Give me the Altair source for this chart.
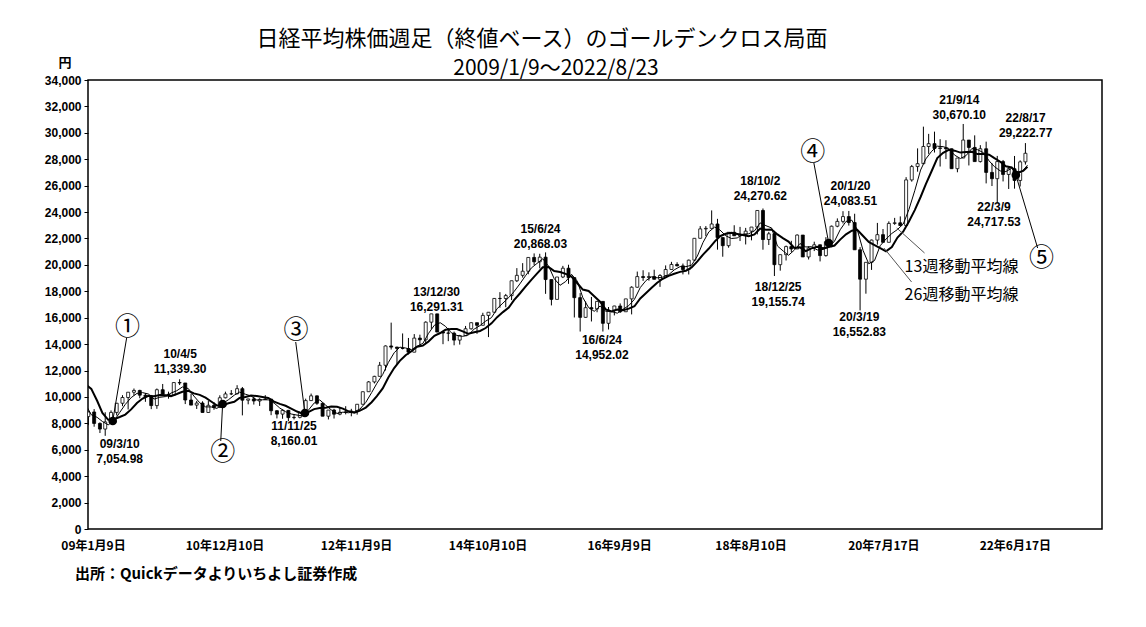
import altair as alt
import pandas as pd

# ---------------- data (monthly, close-based) ----------------
month_start = pd.date_range("2008-07-01", "2022-08-01", freq="MS")
mid_dates = list(month_start + pd.Timedelta(days=14))
end_dates = list(month_start + pd.offsets.MonthEnd(0))
mid_dates[-1] = pd.Timestamp("2022-08-12")
end_dates[-1] = pd.Timestamp("2022-08-23")

opens = [
    13481, 13377, 13073, 11260, 8577, 8512,
    8860, 7994, 7568, 8109, 8828, 9523, 9958, 10357, 10492, 10133, 10034, 9345,
    10546, 10198, 10126, 11089, 11057, 9768, 9382, 9537, 8824, 9369, 9202, 9937,
    10228, 10237, 10624, 9755, 9849, 9693, 9816, 9833, 8955, 8700, 8988, 8434,
    8455, 8802, 9723, 10083, 9520, 8542, 9006, 8695, 8839, 8870, 8928, 9446,
    10395, 11138, 11559, 12397, 13860, 13774, 13677, 13668, 13389, 14456, 14327, 15662,
    16291, 14914, 14841, 14828, 14304, 14632, 15162, 15621, 15425, 16174, 16414, 17460,
    17451, 17674, 18798, 19207, 19520, 20563, 20236, 20585, 18890, 17388, 19083, 19747,
    19034, 17518, 16027, 16759, 16666, 17235, 15576, 16569, 16887, 16450, 17425, 18308,
    19114, 19041, 19119, 18909, 19197, 19651, 20033, 19925, 19646, 20356, 22012, 22725,
    22765, 23098, 22068, 21454, 22468, 22202, 22305, 22554, 22865, 24120, 21920, 22351,
    20015, 20773, 21385, 21206, 22259, 20601, 21276, 21521, 20704, 21756, 22927, 23294,
    23657, 23205, 21143, 18917, 20194, 21878, 22288, 21710, 23140, 23185, 22977, 26434,
    27444, 27663, 28966, 29179, 28813, 28860, 28792, 27284, 28090, 29453, 28893, 27822,
    28792, 27002, 26527, 27821, 26848, 27280, 26393, 27802,
]
highs = [
    13603, 13430, 13168, 11368, 9521, 8860,
    9080, 8076, 8843, 8981, 9547, 10135, 10357, 10639, 10544, 10290, 10150, 10640,
    10982, 10400, 11097, 11339, 11057, 10250, 9700, 9670, 9690, 9600, 10125, 10400,
    10520, 10891, 10754, 9849, 10004, 9900, 10137, 9833, 9000, 9060, 8988, 8700,
    8900, 9870, 10255, 10110, 9520, 9006, 9100, 9200, 9300, 9100, 9460, 10400,
    11200, 11600, 12650, 13900, 15627, 13800, 14808, 14466, 14760, 14713, 15727, 16291,
    16291, 15000, 15224, 14946, 14700, 15376, 15650, 15621, 16374, 16414, 17490, 17935,
    17800, 18798, 19754, 20133, 20563, 20868, 20841, 20946, 18890, 19083, 19925, 20012,
    19034, 17865, 17233, 17572, 17235, 17235, 16810, 16900, 17081, 17425, 18380, 19494,
    19594, 19437, 19633, 19300, 19961, 20230, 20200, 20100, 20400, 22012, 22938, 22939,
    24124, 23486, 22068, 22468, 23002, 22877, 22800, 22869, 24120, 24271, 22500, 22574,
    20773, 21464, 21822, 22307, 22259, 21400, 21756, 21540, 22098, 22974, 23520, 24066,
    24084, 23873, 21344, 20194, 21916, 23178, 22715, 23296, 23559, 23671, 26644, 27568,
    28822, 30468, 29921, 30089, 29518, 29441, 28807, 28090, 30670, 29453, 29808, 29066,
    29332, 27696, 28252, 27944, 27401, 28247, 27915, 29223,
]
lows = [
    12760, 12666, 11259, 7162, 7703, 7863,
    7745, 7268, 7055, 8084, 8600, 9300, 9050, 10100, 9900, 9630, 9076, 9100,
    10198, 9868, 10100, 10900, 9460, 9382, 9090, 8824, 8824, 9027, 9159, 9890,
    10140, 10200, 8605, 9441, 9422, 9318, 9795, 8619, 8374, 8348, 8160, 8296,
    8378, 8800, 9700, 9402, 8542, 8296, 8365, 8612, 8680, 8534, 8661, 9432,
    10395, 11020, 11559, 12003, 13589, 12445, 13600, 13219, 13389, 13854, 14086, 15152,
    14914, 13995, 14224, 13910, 13964, 14632, 15100, 14778, 15425, 14532, 16414, 16755,
    16795, 17335, 18700, 19034, 19291, 19990, 19737, 17806, 16931, 17388, 19000, 18565,
    16017, 14953, 16000, 15715, 16412, 14952, 15107, 16173, 16359, 16450, 16251, 18274,
    18788, 18805, 18909, 18335, 19197, 19651, 19891, 19280, 19274, 20356, 22000, 22177,
    22765, 21154, 20617, 21300, 22200, 21804, 21546, 21858, 22307, 21149, 21507, 19156,
    19562, 20333, 20977, 21206, 20601, 20408, 21046, 20261, 20625, 21341, 22850, 23135,
    22977, 21143, 16553, 17818, 19619, 21530, 21710, 21710, 23032, 22977, 22977, 26300,
    27056, 27663, 28405, 28508, 27448, 28011, 27284, 27013, 28090, 27528, 27822, 27753,
    26170, 25971, 24718, 26319, 25748, 25771, 25936, 27594,
]
closes = [
    13377, 13073, 11260, 8577, 8512, 8860,
    7994, 7568, 8109, 8828, 9523, 9958, 10357, 10492, 10133, 10034, 9345, 10546,
    10198, 10126, 11089, 11057, 9768, 9382, 9537, 8824, 9369, 9202, 9937, 10228,
    10237, 10624, 9755, 9849, 9693, 9816, 9833, 8955, 8700, 8988, 8434, 8455,
    8802, 9723, 10083, 9520, 8542, 9006, 8695, 8839, 8870, 8928, 9446, 10395,
    11138, 11559, 12397, 13860, 13774, 13677, 13668, 13389, 14456, 14327, 15662, 16291,
    14914, 14841, 14828, 14304, 14632, 15162, 15621, 15425, 16174, 16414, 17460, 17451,
    17674, 18798, 19207, 19520, 20563, 20236, 20585, 18890, 17388, 19083, 19747, 19034,
    17518, 16027, 16759, 16666, 17235, 15576, 16569, 16887, 16450, 17425, 18308, 19114,
    19041, 19119, 18909, 19197, 19651, 20033, 19925, 19646, 20356, 22012, 22725, 22765,
    23098, 22068, 21454, 22468, 22202, 22305, 22554, 22865, 24120, 21920, 22351, 20015,
    20773, 21385, 21206, 22259, 20601, 21276, 21521, 20704, 21756, 22927, 23294, 23657,
    23205, 21143, 18917, 20194, 21878, 22288, 21710, 23140, 23185, 22977, 26434, 27444,
    27663, 28966, 29179, 28813, 28860, 28792, 27284, 28090, 29453, 28893, 27822, 28792,
    27002, 26527, 27821, 26848, 27280, 26393, 27802, 28452,
]

# annotated highs / lows (text, text anchor date, text anchor value)
ann_labels = ["09/3/10\n7,054.98", "10/4/5\n11,339.30", "11/11/25\n8,160.01",
              "13/12/30\n16,291.31", "15/6/24\n20,868.03", "16/6/24\n14,952.02",
              "18/10/2\n24,270.62", "18/12/25\n19,155.74", "20/1/20\n24,083.51",
              "20/3/19\n16,552.83", "21/9/14\n30,670.10", "22/3/9\n24,717.53",
              "22/8/17\n29,222.77"]
ann_dates = ["2009-05-31", "2010-04-18", "2011-12-15", "2014-01-12", "2015-07-19",
             "2016-06-10", "2018-10-01", "2019-01-04", "2020-01-24", "2020-03-11",
             "2021-08-25", "2022-02-26", "2022-08-13"]
ann_values = [6815, 13630, 8178, 18325, 23096, 14690, 26730, 18704, 26352, 16432,
              32864, 24761, 31501]

# golden cross points
gc_labels = ["①", "②", "③", "④", "⑤"]
gc_dates = ["2009-04-24", "2010-11-30", "2012-02-11", "2019-09-30", "2022-06-22"]
gc_values = [8178, 9465, 8784, 21657, 26806]
gc_text_dates = ["2009-07-12", "2010-11-30", "2011-12-25", "2019-07-07", "2022-11-06"]
gc_text_values = [15296, 5831, 15069, 28548, 20521]
gc_lead_dates = ["2009-07-07", "2010-11-20", "2011-12-24", "2019-07-13", "2022-10-16"]
gc_lead_values = [14463, 6664, 14160, 27715, 21278]

# moving-average labels
ma_labels = ["13週移動平均線", "26週移動平均線"]
ma_label_dates = ["2020-11-07", "2020-11-07"]
ma_label_values = [19839, 17719]
ma_lead_from_dates = ["2020-09-26", "2020-07-20"]
ma_lead_from_values = [22793, 21278]
ma_lead_to_dates = ["2021-02-21", "2020-12-14"]
ma_lead_to_values = [20900, 18704]

tick_dates = ["2009-01-09", "2010-12-10", "2012-11-09", "2014-10-10",
              "2016-09-09", "2018-08-10", "2020-07-17", "2022-06-17"]
y_ticks = list(range(0, 34001, 2000))

TITLE = "日経平均株価週足（終値ベース）のゴールデンクロス局面"
SUBTITLE = "2009/1/9～2022/8/23"
SOURCE = "出所：Quickデータよりいちよし証券作成"

# ---------------- chart ----------------
JP = "Noto Sans CJK JP"
NUM = "Liberation Sans"

df = pd.DataFrame({"mid": mid_dates, "end": end_dates, "open": opens,
                   "high": highs, "low": lows, "close": closes})


def dt(s):
    y, m, d = [int(v) for v in s.split("-")]
    return alt.DateTime(year=y, month=m, date=d)


xscale = alt.Scale(domain=[dt("2009-01-09"), dt("2023-08-28")])
yscale = alt.Scale(domain=[0, 34000], nice=False, zero=False)

x_axis = alt.Axis(values=[dt(s) for s in tick_dates], format="%y年%-m月%-d日",
                  labelFont=JP, labelFontWeight="bold", labelFontSize=12,
                  labelColor="black", ticks=False, domain=False, grid=False,
                  labelPadding=11, title=None, labelOverlap=False)
y_axis = alt.Axis(values=y_ticks, format=",d", labelFont=NUM,
                  labelFontWeight="bold", labelFontSize=12, labelColor="black",
                  tickColor="black", tickSize=4, domain=False, grid=False,
                  labelPadding=3, title=None, labelOverlap=False, labelBound=False)


def XT(field):
    return alt.X(field, scale=xscale, axis=x_axis)


def YQ(field):
    return alt.Y(field, scale=yscale, axis=y_axis)


base = alt.Chart(df)

wicks = base.mark_rule(color="black", strokeWidth=1, clip=True).encode(
    x=XT("mid:T"), y=YQ("low:Q"), y2="high:Q")
bodies = base.mark_bar(width=3, stroke="black", strokeWidth=0.8, clip=True).encode(
    x=XT("mid:T"), y=YQ("open:Q"), y2="close:Q",
    fill=alt.condition("datum.close >= datum.open", alt.value("white"), alt.value("black")),
)

ma_base = base.transform_window(
    ma13="mean(close)", frame=[-2, 0], sort=[alt.SortField("end")]
).transform_window(
    ma26="mean(close)", frame=[-5, 0], sort=[alt.SortField("end")]
)
ma13 = ma_base.mark_line(color="black", strokeWidth=1, clip=True).encode(
    x=XT("end:T"), y=YQ("ma13:Q"))
ma26 = ma_base.mark_line(color="black", strokeWidth=2, clip=True).encode(
    x=XT("end:T"), y=YQ("ma26:Q"))

ann_df = pd.DataFrame({"label": ann_labels, "d": pd.to_datetime(ann_dates), "v": ann_values})
ann = alt.Chart(ann_df).mark_text(font=NUM, fontSize=12, fontWeight="bold", align="center",
                                  baseline="top", lineBreak="\n", lineHeight=15,
                                  color="black").encode(
    x=XT("d:T"), y=YQ("v:Q"), text="label:N")

gc_df = pd.DataFrame({
    "label": gc_labels, "d": pd.to_datetime(gc_dates), "v": gc_values,
    "td": pd.to_datetime(gc_text_dates), "tv": gc_text_values,
    "ld": pd.to_datetime(gc_lead_dates), "lv": gc_lead_values,
})
gc_lead = alt.Chart(gc_df).mark_rule(color="black", strokeWidth=1).encode(
    x=XT("ld:T"), y=YQ("lv:Q"), x2="d:T", y2="v:Q")
gc_dot = alt.Chart(gc_df).mark_circle(size=75, color="black", opacity=1).encode(
    x=XT("d:T"), y=YQ("v:Q"))
gc_txt = alt.Chart(gc_df).mark_text(font=JP, fontSize=25, align="center",
                                    baseline="middle", color="black").encode(
    x=XT("td:T"), y=YQ("tv:Q"), text="label:N")

ma_df = pd.DataFrame({
    "label": ma_labels, "d": pd.to_datetime(ma_label_dates), "v": ma_label_values,
    "fd": pd.to_datetime(ma_lead_from_dates), "fv": ma_lead_from_values,
    "tdd": pd.to_datetime(ma_lead_to_dates), "tvv": ma_lead_to_values,
})
ma_lead = alt.Chart(ma_df).mark_rule(color="#555555", strokeWidth=1).encode(
    x=XT("fd:T"), y=YQ("fv:Q"), x2="tdd:T", y2="tvv:Q")
ma_txt = alt.Chart(ma_df).mark_text(font=JP, fontSize=16, align="left", baseline="middle",
                                    color="black").encode(
    x=XT("d:T"), y=YQ("v:Q"), text="label:N")

txt_df = pd.DataFrame({"t": [TITLE, SUBTITLE, SOURCE, "円"]})
title_t = alt.Chart(txt_df).transform_filter(alt.datum.t == TITLE).mark_text(
    font=JP, fontSize=22, align="center", baseline="middle", color="black").encode(
    text="t:N", x=alt.value(454), y=alt.value(-41))
sub_t = alt.Chart(txt_df).transform_filter(alt.datum.t == SUBTITLE).mark_text(
    font=JP, fontSize=21, align="center", baseline="middle", color="black").encode(
    text="t:N", x=alt.value(468), y=alt.value(-11))
src_t = alt.Chart(txt_df).transform_filter(alt.datum.t == SOURCE).mark_text(
    font=JP, fontSize=15, fontWeight="bold", align="left", baseline="middle",
    color="black").encode(text="t:N", x=alt.value(-13), y=alt.value(45 + 449))
yen_t = alt.Chart(txt_df).transform_filter(alt.datum.t == "円").mark_text(
    font=JP, fontSize=13, fontWeight="bold", align="center", baseline="middle",
    color="black").encode(text="t:N", x=alt.value(-23), y=alt.value(-17))

chart = alt.layer(
    wicks, bodies, ma13, ma26, gc_lead, gc_dot, gc_txt, ma_lead, ma_txt, ann,
    title_t, sub_t, src_t, yen_t,
).properties(
    width=1014, height=449,
    padding={"left": 80, "top": 72, "right": 30, "bottom": 90},
    autosize=alt.AutoSizeParams(type="none"),
    background="white",
).configure_view(stroke="black", strokeWidth=1.5)

chart.save("out.html", embed_options={"renderer": "svg", "actions": False})
